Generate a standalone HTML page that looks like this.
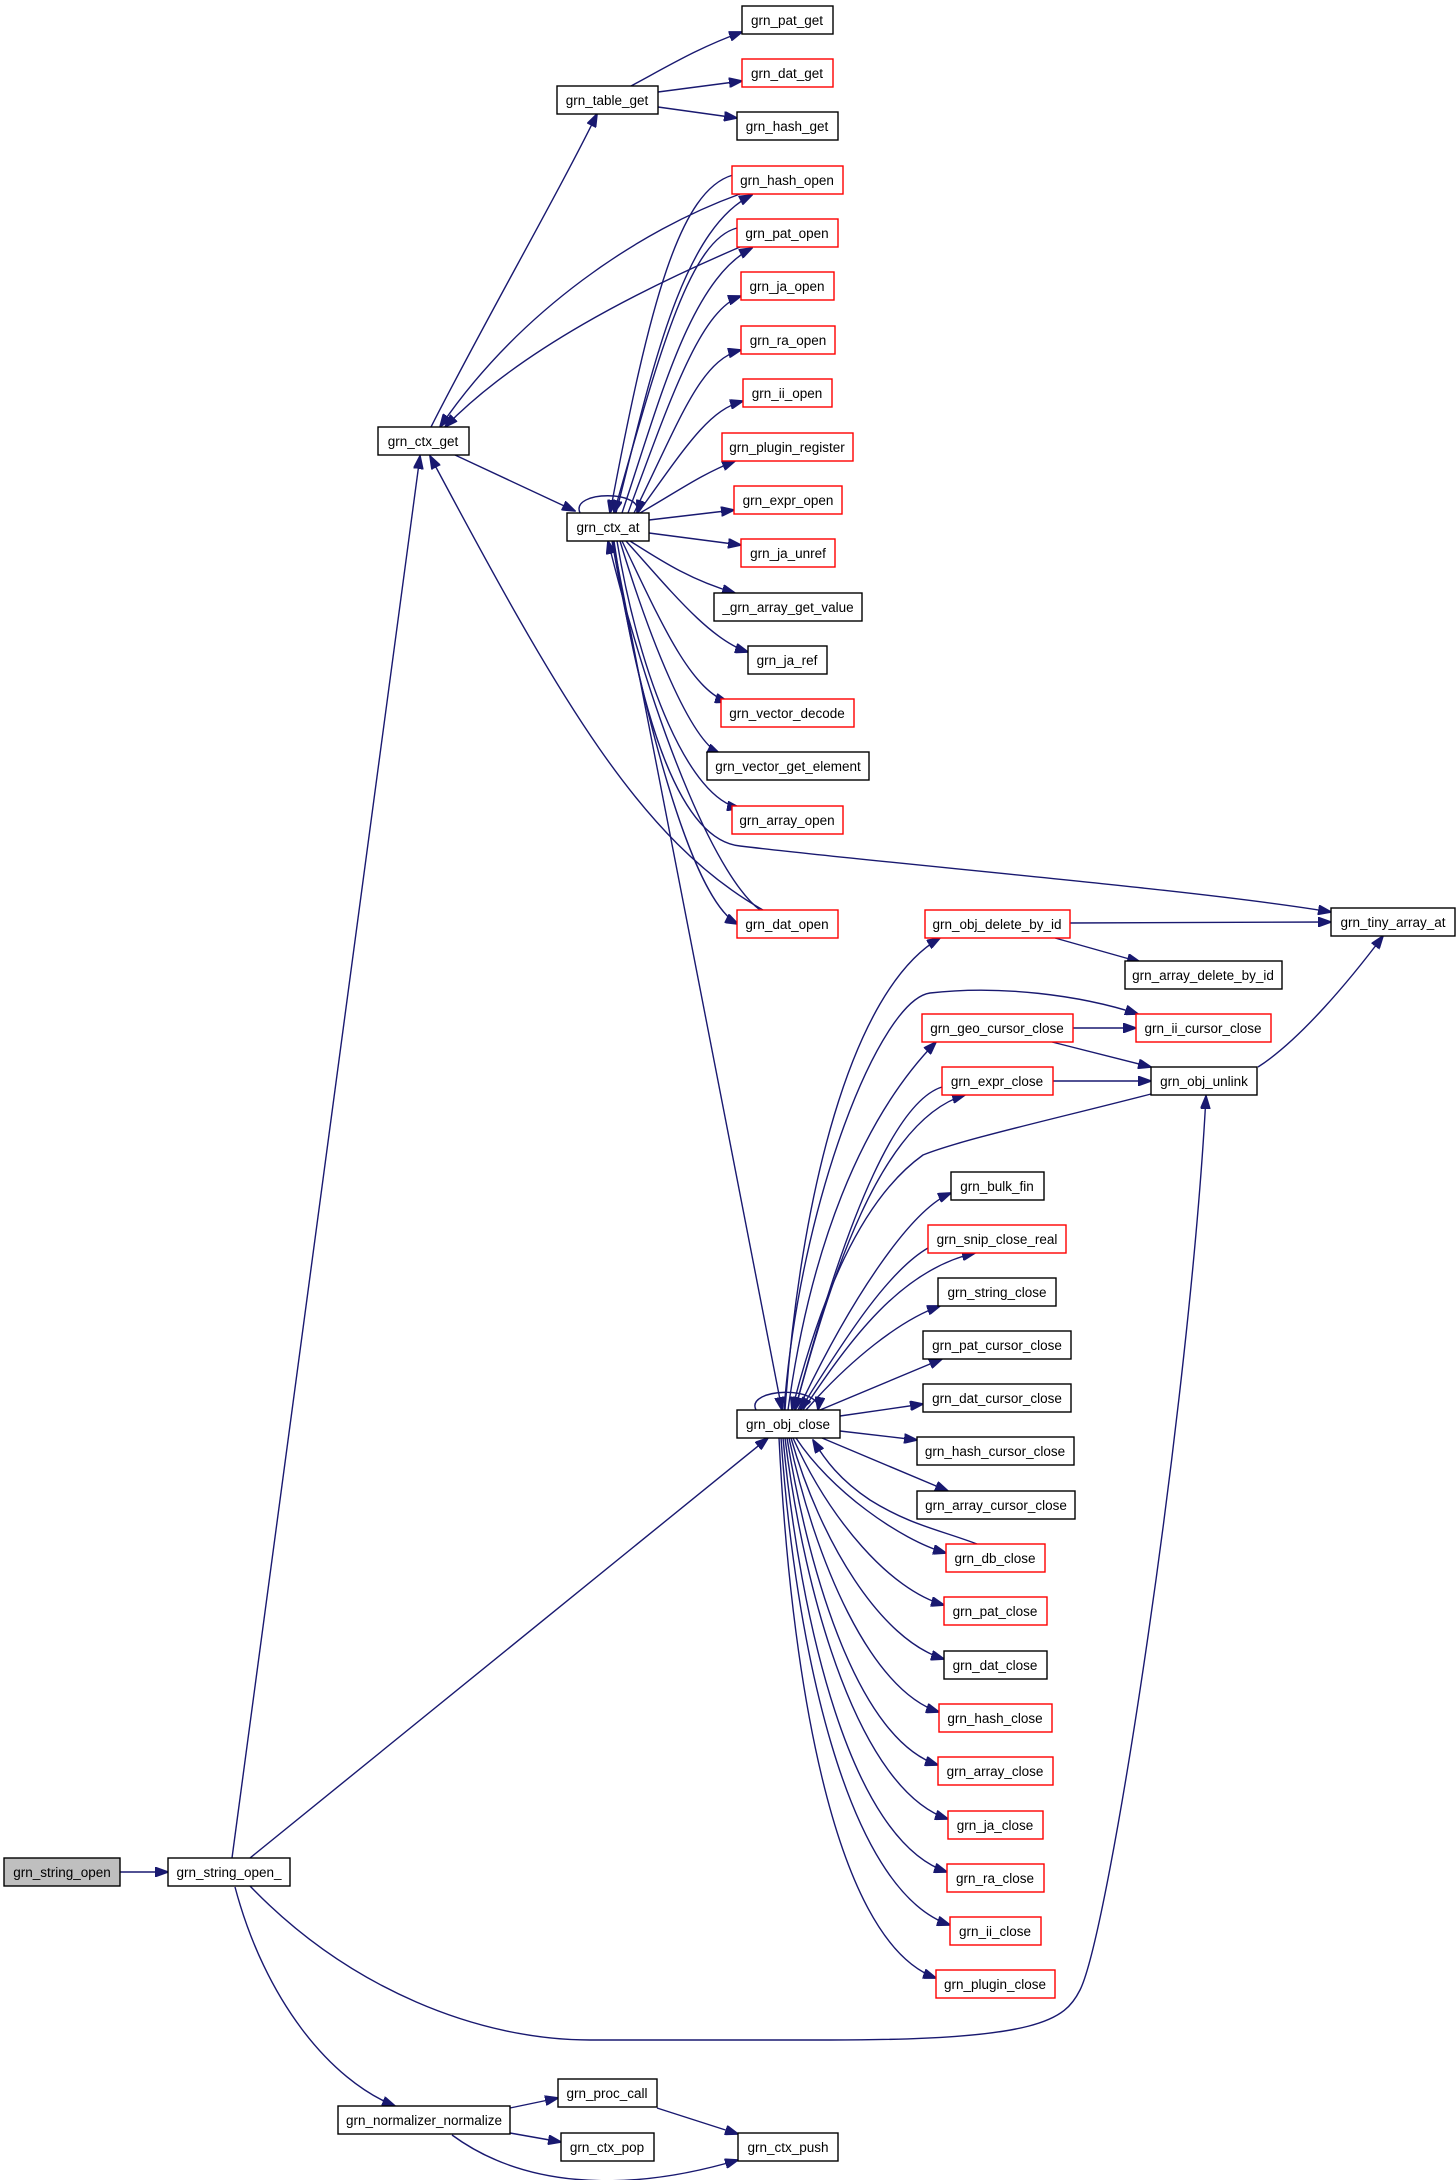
<!DOCTYPE html>
<html><head><meta charset="utf-8"><style>
html,body{margin:0;padding:0;background:#fff;}
svg{display:block;}
text{font-family:"Liberation Sans",sans-serif;font-size:13.5px;fill:#000;}
.n{fill:#fff;stroke:#000;stroke-width:1.4;}
.r{fill:#fff;stroke:#ff0000;stroke-width:1.4;}
.g{fill:#bfbfbf;stroke:#000;stroke-width:1.4;}
path{fill:none;stroke:#191970;stroke-width:1.4;}
</style></head><body>
<svg width="1456" height="2180" viewBox="0 0 1456 2180" xmlns="http://www.w3.org/2000/svg">
<defs><marker id="a" markerWidth="14" markerHeight="10" refX="13" refY="5" orient="auto" markerUnits="userSpaceOnUse"><polygon points="0,0 14,5 0,10" fill="#191970" stroke="#191970"/></marker></defs>
<g marker-end="url(#a)">
<path d="M120,1872 L168,1872"/>
<path d="M232,1858 L420,456"/>
<path d="M250,1858 L768,1438"/>
<path d="M250,1886 C350,1990 480,2040 590,2040 L830,2040 C1040,2040 1065,2020 1080,1990 C1110,1930 1190,1400 1206,1096"/>
<path d="M235,1887 C265,2000 330,2080 395,2106"/>
<path d="M510,2108 L558,2098"/>
<path d="M510,2133 L561,2142"/>
<path d="M452,2135 C520,2185 620,2195 738,2160"/>
<path d="M657,2108 L738,2134"/>
<path d="M431,427 C480,330 560,190 597,114"/>
<path d="M455,455 L575,511"/>
<path d="M631,86 C670,65 700,47 742,32"/>
<path d="M658,92 L742,81"/>
<path d="M658,107 L737,118"/>
<path d="M740,194 C640,230 520,310 440,427"/>
<path d="M740,247 C640,290 520,350 445,427"/>
<path d="M616,513 C650,380 680,230 752,195"/>
<path d="M733,175 C680,190 650,300 610,513"/>
<path d="M622,513 C660,400 690,280 752,248"/>
<path d="M737,228 C690,240 660,350 614,513"/>
<path d="M763,910 C640,840 560,700 430,456"/>
<path d="M612,541 C640,700 690,900 738,924"/>
<path d="M760,910 C720,880 660,750 608,541"/>
<path d="M580,513 C570,490 645,490 637,513"/>
<path d="M628,513 C670,400 700,310 741,296"/>
<path d="M634,513 C680,420 700,360 741,350"/>
<path d="M638,513 C690,440 710,410 743,401"/>
<path d="M640,513 C680,490 700,475 735,461"/>
<path d="M649,520 L734,510"/>
<path d="M649,533 L741,545"/>
<path d="M630,541 C660,560 690,580 735,593"/>
<path d="M626,541 C670,590 710,640 748,652"/>
<path d="M622,541 C660,620 690,690 728,702"/>
<path d="M620,541 C650,640 690,740 720,754"/>
<path d="M617,541 C640,680 690,800 740,808"/>
<path d="M614,541 C640,720 680,840 740,846 C900,865 1200,890 1331,912"/>
<path d="M613,541 L782,1410"/>
<path d="M1070,923 L1331,922"/>
<path d="M1055,938 L1140,962"/>
<path d="M1073,1028 L1136,1028"/>
<path d="M1052,1042 L1151,1067"/>
<path d="M1053,1081 L1151,1081"/>
<path d="M1258,1067 C1300,1040 1350,980 1383,936"/>
<path d="M1151,1094 C1050,1120 960,1140 923,1155 C860,1200 820,1300 792,1410"/>
<path d="M785,1410 C800,1200 850,990 940,938"/>
<path d="M784,1410 C800,1200 880,1000 930,993 C1000,985 1080,995 1138,1014"/>
<path d="M788,1410 C810,1250 860,1120 936,1042"/>
<path d="M942,1087 C900,1100 850,1200 795,1410"/>
<path d="M795,1410 C830,1280 880,1120 965,1095"/>
<path d="M798,1410 C850,1300 910,1210 951,1193"/>
<path d="M928,1248 C890,1270 850,1330 800,1410"/>
<path d="M803,1410 C850,1340 900,1270 975,1253"/>
<path d="M806,1410 C850,1360 900,1320 940,1306"/>
<path d="M820,1410 L942,1359"/>
<path d="M840,1416 L923,1404"/>
<path d="M756,1410 C745,1388 822,1385 818,1410"/>
<path d="M840,1431 L917,1440"/>
<path d="M822,1438 L948,1491"/>
<path d="M977,1544 C940,1530 910,1525 870,1500 C840,1480 825,1460 813,1440"/>
<path d="M796,1438 C830,1490 900,1540 946,1553"/>
<path d="M793,1438 C830,1520 890,1590 944,1605"/>
<path d="M791,1438 C820,1540 880,1640 944,1659"/>
<path d="M789,1438 C815,1560 870,1690 939,1712"/>
<path d="M787,1438 C810,1580 860,1740 938,1765"/>
<path d="M785,1438 C805,1600 860,1790 948,1819"/>
<path d="M783,1438 C800,1620 850,1840 947,1872"/>
<path d="M781,1438 C795,1640 845,1890 950,1925"/>
<path d="M779,1438 C790,1660 830,1940 936,1978"/>
</g>
<rect class="g" x="4" y="1858" width="116" height="28"/><text x="62" y="1877" text-anchor="middle">grn_string_open</text>
<rect class="n" x="168" y="1858" width="122" height="28"/><text x="229" y="1877" text-anchor="middle">grn_string_open_</text>
<rect class="n" x="378" y="427" width="91" height="28"/><text x="423" y="446" text-anchor="middle">grn_ctx_get</text>
<rect class="n" x="557" y="86" width="101" height="28"/><text x="607" y="105" text-anchor="middle">grn_table_get</text>
<rect class="n" x="742" y="6" width="91" height="28"/><text x="787" y="25" text-anchor="middle">grn_pat_get</text>
<rect class="r" x="742" y="59" width="91" height="28"/><text x="787" y="78" text-anchor="middle">grn_dat_get</text>
<rect class="n" x="737" y="112" width="101" height="28"/><text x="787" y="131" text-anchor="middle">grn_hash_get</text>
<rect class="r" x="732" y="166" width="111" height="28"/><text x="787" y="185" text-anchor="middle">grn_hash_open</text>
<rect class="r" x="737" y="219" width="101" height="28"/><text x="787" y="238" text-anchor="middle">grn_pat_open</text>
<rect class="r" x="741" y="272" width="93" height="28"/><text x="787" y="291" text-anchor="middle">grn_ja_open</text>
<rect class="r" x="741" y="326" width="94" height="28"/><text x="788" y="345" text-anchor="middle">grn_ra_open</text>
<rect class="r" x="743" y="379" width="89" height="28"/><text x="787" y="398" text-anchor="middle">grn_ii_open</text>
<rect class="r" x="722" y="433" width="131" height="28"/><text x="787" y="452" text-anchor="middle">grn_plugin_register</text>
<rect class="r" x="734" y="486" width="108" height="28"/><text x="788" y="505" text-anchor="middle">grn_expr_open</text>
<rect class="r" x="741" y="539" width="94" height="28"/><text x="788" y="558" text-anchor="middle">grn_ja_unref</text>
<rect class="n" x="714" y="593" width="148" height="28"/><text x="788" y="612" text-anchor="middle">_grn_array_get_value</text>
<rect class="n" x="748" y="646" width="79" height="28"/><text x="787" y="665" text-anchor="middle">grn_ja_ref</text>
<rect class="r" x="721" y="699" width="133" height="28"/><text x="787" y="718" text-anchor="middle">grn_vector_decode</text>
<rect class="n" x="707" y="752" width="162" height="28"/><text x="788" y="771" text-anchor="middle">grn_vector_get_element</text>
<rect class="r" x="732" y="806" width="111" height="28"/><text x="787" y="825" text-anchor="middle">grn_array_open</text>
<rect class="n" x="567" y="513" width="82" height="28"/><text x="608" y="532" text-anchor="middle">grn_ctx_at</text>
<rect class="r" x="737" y="910" width="101" height="28"/><text x="787" y="929" text-anchor="middle">grn_dat_open</text>
<rect class="r" x="925" y="910" width="145" height="28"/><text x="997" y="929" text-anchor="middle">grn_obj_delete_by_id</text>
<rect class="n" x="1331" y="908" width="124" height="28"/><text x="1393" y="927" text-anchor="middle">grn_tiny_array_at</text>
<rect class="n" x="1125" y="961" width="157" height="28"/><text x="1203" y="980" text-anchor="middle">grn_array_delete_by_id</text>
<rect class="r" x="922" y="1014" width="151" height="28"/><text x="997" y="1033" text-anchor="middle">grn_geo_cursor_close</text>
<rect class="r" x="1136" y="1014" width="135" height="28"/><text x="1203" y="1033" text-anchor="middle">grn_ii_cursor_close</text>
<rect class="r" x="942" y="1067" width="111" height="28"/><text x="997" y="1086" text-anchor="middle">grn_expr_close</text>
<rect class="n" x="1151" y="1067" width="106" height="28"/><text x="1204" y="1086" text-anchor="middle">grn_obj_unlink</text>
<rect class="n" x="951" y="1172" width="93" height="28"/><text x="997" y="1191" text-anchor="middle">grn_bulk_fin</text>
<rect class="r" x="928" y="1225" width="138" height="28"/><text x="997" y="1244" text-anchor="middle">grn_snip_close_real</text>
<rect class="n" x="938" y="1278" width="118" height="28"/><text x="997" y="1297" text-anchor="middle">grn_string_close</text>
<rect class="n" x="923" y="1331" width="148" height="28"/><text x="997" y="1350" text-anchor="middle">grn_pat_cursor_close</text>
<rect class="n" x="923" y="1384" width="148" height="28"/><text x="997" y="1403" text-anchor="middle">grn_dat_cursor_close</text>
<rect class="n" x="737" y="1410" width="103" height="28"/><text x="788" y="1429" text-anchor="middle">grn_obj_close</text>
<rect class="n" x="917" y="1437" width="157" height="28"/><text x="995" y="1456" text-anchor="middle">grn_hash_cursor_close</text>
<rect class="n" x="917" y="1491" width="158" height="28"/><text x="996" y="1510" text-anchor="middle">grn_array_cursor_close</text>
<rect class="r" x="946" y="1544" width="99" height="28"/><text x="995" y="1563" text-anchor="middle">grn_db_close</text>
<rect class="r" x="944" y="1597" width="103" height="28"/><text x="995" y="1616" text-anchor="middle">grn_pat_close</text>
<rect class="n" x="944" y="1651" width="103" height="28"/><text x="995" y="1670" text-anchor="middle">grn_dat_close</text>
<rect class="r" x="939" y="1704" width="113" height="28"/><text x="995" y="1723" text-anchor="middle">grn_hash_close</text>
<rect class="r" x="938" y="1757" width="115" height="28"/><text x="995" y="1776" text-anchor="middle">grn_array_close</text>
<rect class="r" x="948" y="1811" width="95" height="28"/><text x="995" y="1830" text-anchor="middle">grn_ja_close</text>
<rect class="r" x="947" y="1864" width="97" height="28"/><text x="995" y="1883" text-anchor="middle">grn_ra_close</text>
<rect class="r" x="950" y="1917" width="91" height="28"/><text x="995" y="1936" text-anchor="middle">grn_ii_close</text>
<rect class="r" x="936" y="1970" width="119" height="28"/><text x="995" y="1989" text-anchor="middle">grn_plugin_close</text>
<rect class="n" x="338" y="2106" width="172" height="28"/><text x="424" y="2125" text-anchor="middle">grn_normalizer_normalize</text>
<rect class="n" x="558" y="2079" width="99" height="28"/><text x="607" y="2098" text-anchor="middle">grn_proc_call</text>
<rect class="n" x="561" y="2133" width="93" height="28"/><text x="607" y="2152" text-anchor="middle">grn_ctx_pop</text>
<rect class="n" x="738" y="2133" width="100" height="28"/><text x="788" y="2152" text-anchor="middle">grn_ctx_push</text>
</svg>
</body></html>
